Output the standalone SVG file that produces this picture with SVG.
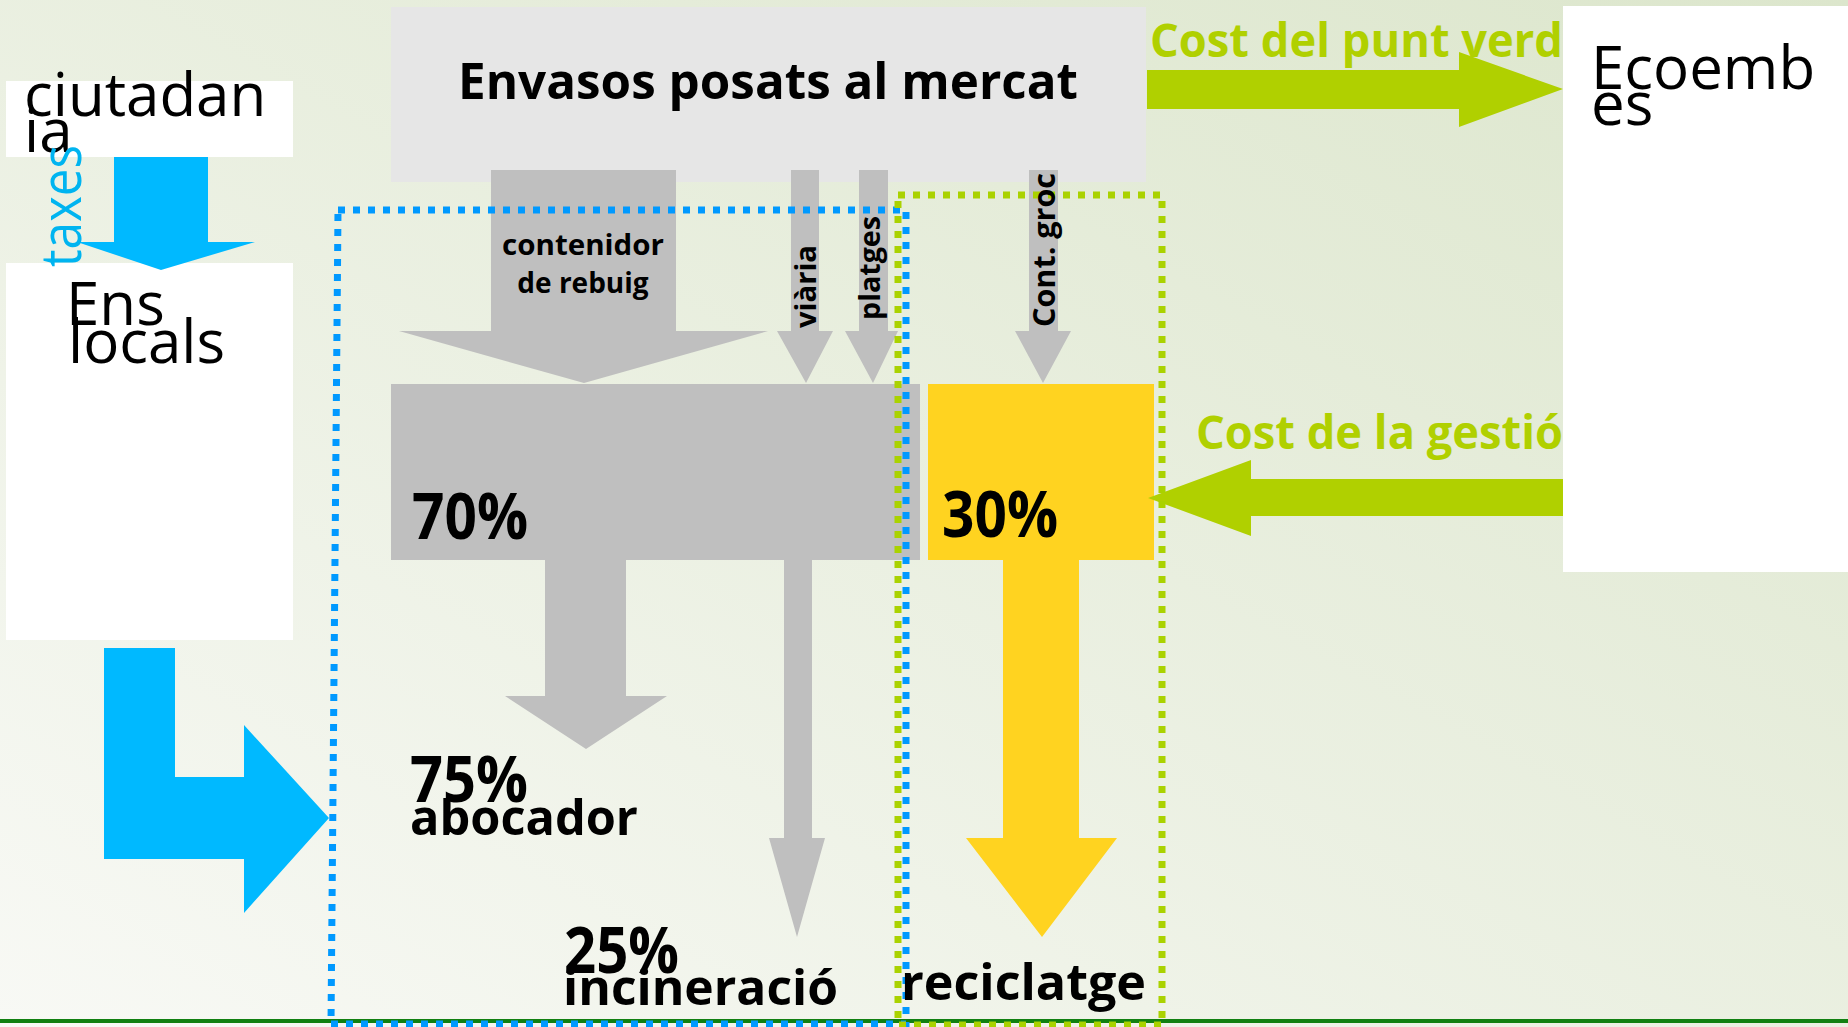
<svg xmlns="http://www.w3.org/2000/svg" width="1848" height="1027" viewBox="0 0 1848 1027">
<defs>
<linearGradient id="bg" x1="0" y1="1" x2="1" y2="0">
<stop offset="0" stop-color="#f8f9f5"/>
<stop offset="1" stop-color="#dce6cc"/>
</linearGradient>
<style>
.reg{font-family:"Open Sans","DejaVu Sans",sans-serif;font-size:60px;fill:#000}
.b{font-family:"Open Sans","DejaVu Sans",sans-serif;font-weight:bold;fill:#000}
.g{fill:#bfbfbf}
.grn{fill:#b0d000}
.blu{fill:#00b9ff}
.dotb{fill:none;stroke:#0099ff;stroke-width:7;stroke-dasharray:7 8}
.dotg{fill:none;stroke:#aad200;stroke-width:7;stroke-dasharray:7 8}
</style>
</defs>
<rect x="0" y="0" width="1848" height="1027" fill="url(#bg)"/>
<rect x="0" y="1019" width="1848" height="4" fill="#118011"/>

<g id="envasos">
<rect x="391" y="7" width="755" height="175" fill="#e6e6e6"/>
<text class="b" x="458" y="99" font-size="51" textLength="620" lengthAdjust="spacingAndGlyphs">Envasos posats al mercat</text>
</g>

<g id="rebuig">
<rect x="391" y="384" width="529" height="176" fill="#bfbfbf"/>
<text class="b" x="412" y="539" font-size="65" textLength="116" lengthAdjust="spacingAndGlyphs">70%</text>
</g>

<g id="groc">
<rect x="928" y="384" width="226" height="176" fill="#ffd320"/>
<text class="b" x="942" y="537" font-size="65" textLength="116" lengthAdjust="spacingAndGlyphs">30%</text>
</g>

<g id="connectors">
<polygon class="g" points="491,170 676,170 676,331 768,331 584,383 399,331 491,331"/>
<polygon class="g" points="791,170 819,170 819,331 833,331 806,383 777,331 791,331"/>
<polygon class="g" points="859,170 888,170 888,331 898,331 873,383 845,331 859,331"/>
<polygon class="g" points="1029,170 1058,170 1058,331 1071,331 1043,383 1015,331 1029,331"/>
<polygon class="g" points="545,560 626,560 626,696 667,696 586,749 505,696 545,696"/>
<polygon class="g" points="784,560 812,560 812,838 825,838 797,937 769,838 784,838"/>
<polygon fill="#ffd320" points="1003,560 1079,560 1079,838 1117,838 1042,937 966,838 1003,838"/>
<polygon class="grn" points="1147,70 1459,70 1459,52 1563,89 1459,127 1459,109 1147,109"/>
<polygon class="grn" points="1563,479 1251,479 1251,460 1148,498 1251,536 1251,516 1563,516"/>
<polygon class="blu" points="104,648 175,648 175,777 244,777 244,725 329,818 244,913 244,859 104,859"/>
<text class="b" font-size="28" transform="translate(816,328) rotate(-90)" textLength="83" lengthAdjust="spacingAndGlyphs">viària</text>
<text class="b" font-size="28" transform="translate(880,320) rotate(-90)" textLength="104" lengthAdjust="spacingAndGlyphs">platges</text>
<text class="b" font-size="28" x="583" y="255" text-anchor="middle" textLength="162" lengthAdjust="spacingAndGlyphs">contenidor</text>
<text class="b" font-size="28" x="583" y="293" text-anchor="middle">de rebuig</text>
<text font-family="Open Sans, DejaVu Sans, sans-serif" font-weight="bold" font-size="47" fill="#b0d000" x="1150" y="57" textLength="413" lengthAdjust="spacingAndGlyphs">Cost del punt verd</text>
<text font-family="Open Sans, DejaVu Sans, sans-serif" font-weight="bold" font-size="47" fill="#b0d000" x="1196" y="449" textLength="367" lengthAdjust="spacingAndGlyphs">Cost de la gestió</text>
</g>

<g id="regions">
<path class="dotb" d="M338,210 L906,210 L906,1024 L331,1024 Z"/>
<path class="dotg" d="M898,195 L1162,195 L1162,1025 L898,1025 Z"/>
</g>

<g id="cont-groc-label">
<text class="b" font-size="30" transform="translate(1055,327) rotate(-90)" textLength="154" lengthAdjust="spacingAndGlyphs">Cont. groc</text>
</g>

<g id="ciutadania">
<rect x="6" y="81" width="287" height="76" fill="#ffffff"/>
<text class="reg" x="24" y="116">ciutadan</text>
<text class="reg" x="24" y="152">ia</text>
</g>

<g id="ens-locals">
<rect x="6" y="263" width="287" height="377" fill="#ffffff"/>
<text class="reg" x="66" y="325">Ens</text>
<text class="reg" x="68" y="363">locals</text>
</g>

<g id="taxes-arrow">
<polygon class="blu" points="114,157 208,157 208,242 255,242 161,270 77,242 114,242"/>
<text font-family="Open Sans, DejaVu Sans, sans-serif" font-size="56" fill="#00b4f0" transform="translate(81,267) rotate(-90)" textLength="122" lengthAdjust="spacingAndGlyphs">taxes</text>
</g>

<g id="ecoembes">
<rect x="1563" y="6" width="285" height="566" fill="#ffffff"/>
<text class="reg" x="1591" y="89">Ecoemb</text>
<text class="reg" x="1591" y="125">es</text>
</g>

<g id="labels">
<text class="b" x="410" y="802" font-size="64" textLength="118" lengthAdjust="spacingAndGlyphs">75%</text>
<text class="b" x="410" y="835" font-size="48" textLength="228" lengthAdjust="spacingAndGlyphs">abocador</text>
<text class="b" x="564" y="973" font-size="64" textLength="115" lengthAdjust="spacingAndGlyphs">25%</text>
<text class="b" x="563" y="1005" font-size="49" textLength="275" lengthAdjust="spacingAndGlyphs">incineració</text>
<text class="b" x="901" y="1000" font-size="50" textLength="245" lengthAdjust="spacingAndGlyphs">reciclatge</text>
</g>
</svg>
